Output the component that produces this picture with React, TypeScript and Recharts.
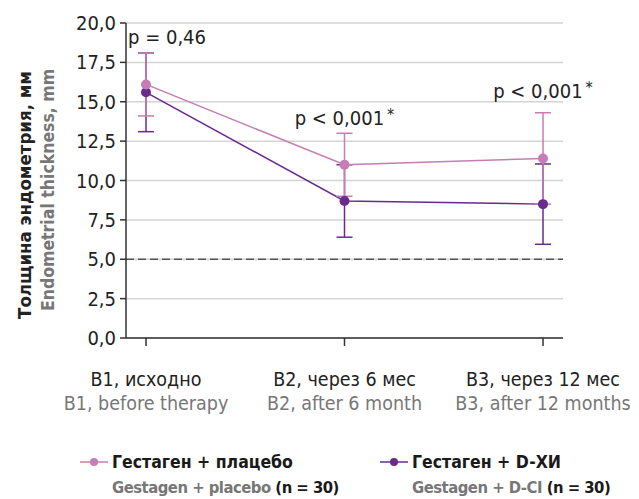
import { LineChart, Line, XAxis, YAxis, CartesianGrid, ReferenceLine, ReferenceDot, ErrorBar } from 'recharts';

// visits and two study arms
const visits = ['B1', 'B2', 'B3'];
const visitRu = ['B1, исходно', 'B2, через 6 мес', 'B3, через 12 мес'];
const visitEn = ['B1, before therapy', 'B2, after 6 month', 'B3, after 12 months'];

const placeboMean = [16.1, 11.0, 11.4];
const placeboSd = [2.0, 2.0, 2.9];
const dciMean = [15.6, 8.7, 8.5];
const dciSd = [2.5, 2.3, 2.55];

const yTicks = [0, 2.5, 5, 7.5, 10, 12.5, 15, 17.5, 20];
const thresholdLine = 5;

const pLabels = [
  { visit: 'B1', y: 19.1, text: 'p = 0,46', star: false, dx: 21 },
  { visit: 'B2', y: 14.0, text: 'p < 0,001', star: true, dx: 0 },
  { visit: 'B3', y: 15.7, text: 'p < 0,001', star: true, dx: 0 }
];

const PINK = '#c77db3';
const PURPLE = '#6a2a8c';
const FONT = '"Liberation Sans Narrow", "DejaVu Sans Condensed", "Roboto", sans-serif';

const data = visits.map((v, i) => ({
  visit: v,
  placebo: placeboMean[i],
  placeboErr: placeboSd[i],
  dci: dciMean[i],
  dciErr: dciSd[i]
}));

function fmt(v: number) {
  return v.toFixed(1).replace('.', ',');
}

function VisitTick(props: any) {
  const { x, y, index } = props;
  return (
    <g>
      <text x={x} y={y + 38} textAnchor="middle" fontSize={19.5} fill="#222" fontFamily={FONT}>{visitRu[index]}</text>
      <text x={x} y={y + 62} textAnchor="middle" fontSize={19.5} fill="#777" fontFamily={FONT}>{visitEn[index]}</text>
    </g>
  );
}

function YTitle() {
  const cy1 = 195;
  const cy2 = 190;
  return (
    <g fontFamily={FONT} fontWeight="bold" textAnchor="middle">
      <text x={31} y={cy1} transform={`rotate(-90 31 ${cy1})`} fill="#222" fontSize={18.5}>Толщина эндометрия, мм</text>
      <text x={54} y={cy2} transform={`rotate(-90 54 ${cy2})`} fill="#777" fontSize={17.5}>Endometrial thickness, mm</text>
    </g>
  );
}

function makePLabel(text: string, star: boolean, dx: number) {
  return (props: any) => {
    const vb = props.viewBox || {};
    const cx = (vb.x ?? 0) + (vb.width ?? 0) / 2 + dx;
    const cy = (vb.y ?? 0) + (vb.height ?? 0) / 2;
    return (
      <text x={cx} y={cy + 7} textAnchor="middle" fontSize={20} fill="#222" fontFamily={FONT}>
        {text}
        {star && <tspan dx={3} dy={-5} fontSize={16}>*</tspan>}
      </text>
    );
  };
}

function LegendBox() {
  const items = [
    { color: PINK, ru: 'Гестаген + плацебо', en: 'Gestagen + placebo', left: 80 },
    { color: PURPLE, ru: 'Гестаген + D-ХИ', en: 'Gestagen + D-CI', left: 380 }
  ];
  return (
    <div style={{ position: 'absolute', left: 0, top: 449, width: 639, height: 50, fontFamily: FONT, fontWeight: 'bold' }}>
      {items.map(it => (
        <div key={it.ru} style={{ position: 'absolute', left: it.left, top: 0 }}>
          <svg width={28} height={12} style={{ position: 'absolute', left: 0, top: 7 }}>
            <line x1={0} y1={6} x2={28} y2={6} stroke={it.color} strokeWidth={1.5} />
            <circle cx={14} cy={6} r={4} fill={it.color} />
          </svg>
          <div style={{ position: 'absolute', left: 32, top: 0, whiteSpace: 'nowrap', color: '#1a1a1a', lineHeight: '26px', fontSize: 17.5 }}>
            {it.ru}
          </div>
          <div style={{ position: 'absolute', left: 32, top: 26, whiteSpace: 'nowrap', color: '#777', lineHeight: '26px', fontSize: 16.5, letterSpacing: -0.5 }}>
            {it.en} <span style={{ color: '#1a1a1a' }}>(n = 30)</span>
          </div>
        </div>
      ))}
    </div>
  );
}

export default function App() {
  return (
    <div style={{ position: 'absolute', left: 0, top: 0, width: 639, height: 499, background: '#fff' }}>
      <LineChart width={639} height={499} data={data} margin={{ top: 23, right: 76, left: 0, bottom: 0 }}>
        <CartesianGrid vertical={false} stroke="#d4d4d4" strokeWidth={1.5} />
        <XAxis
          dataKey="visit"
          scale="point"
          padding={{ left: 20, right: 20 }}
          tickLine={{ stroke: '#333', strokeWidth: 1.5 }}
          tickSize={8}
          axisLine={{ stroke: '#333', strokeWidth: 1.5 }}
          tick={<VisitTick />}
          interval={0}
          height={161}
        />
        <YAxis
          width={126}
          domain={[0, 20]}
          ticks={yTicks}
          interval={0}
          tickFormatter={fmt}
          tickSize={6}
          tickMargin={4}
          tickLine={{ stroke: '#333', strokeWidth: 1.5 }}
          axisLine={{ stroke: '#333', strokeWidth: 1.5 }}
          tick={{ fontSize: 20, fill: '#222', fontFamily: FONT }}
          label={<YTitle />}
        />
        <ReferenceLine y={thresholdLine} stroke="#555" strokeWidth={1.5} strokeDasharray="8 4" />
        <Line
          dataKey="dci"
          stroke={PURPLE}
          strokeWidth={1.5}
          dot={{ r: 5, fill: PURPLE, stroke: PURPLE, strokeWidth: 0 }}
          activeDot={false}
          isAnimationActive={false}
        >
          <ErrorBar dataKey="dciErr" stroke={PURPLE} strokeWidth={1.5} width={8} direction="y" />
        </Line>
        <Line
          dataKey="placebo"
          stroke={PINK}
          strokeWidth={1.5}
          dot={{ r: 5, fill: PINK, stroke: PINK, strokeWidth: 0 }}
          activeDot={false}
          isAnimationActive={false}
        >
          <ErrorBar dataKey="placeboErr" stroke={PINK} strokeWidth={1.5} width={8} direction="y" />
        </Line>
        {pLabels.map(p => (
          <ReferenceDot
            key={p.visit}
            x={p.visit}
            y={p.y}
            r={0}
            fill="none"
            stroke="none"
            label={makePLabel(p.text, p.star, p.dx)}
          />
        ))}
      </LineChart>
      <LegendBox />
    </div>
  );
}
